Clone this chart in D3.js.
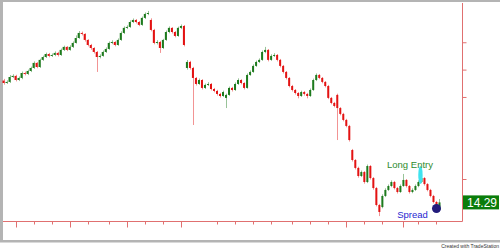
<!DOCTYPE html>
<html lang="en">
<head>
    <meta charset="UTF-8">
    <title>Spread chart</title>
    <style>
        body { margin: 0; background: #fff; }
        svg { display: block; }
    </style>
</head>
<body>
    <script src="https://cdn.jsdelivr.net/npm/d3@7/dist/d3.min.js"></script>
    <svg id="mysvg" width="500" height="248"></svg>
    <script>
        // daily bars
        var opens = [23.20,23.02,23.10,23.46,23.54,23.24,23.39,23.75,23.68,23.90,24.12,24.49,24.19,24.71,24.92,25.14,25.00,25.07,25.22,25.07,
            25.44,25.66,25.44,25.66,25.95,26.31,26.68,26.61,26.17,25.80,25.58,25.29,24.92,25.00,25.29,25.51,25.95,26.02,25.80,26.17,
            26.68,27.05,27.12,27.48,27.63,27.48,27.27,27.78,28.07,27.63,26.90,25.95,26.02,25.58,26.17,26.75,27.05,26.75,26.46,27.05,
            27.19,24.12,24.56,24.12,23.39,22.95,23.24,22.66,22.88,22.95,22.58,22.44,22.22,22.07,21.93,22.15,22.66,22.51,22.95,23.24,
            23.02,22.66,23.61,23.83,24.27,24.56,24.71,25.29,25.44,24.71,25.00,25.07,24.71,24.27,23.83,23.39,22.80,22.51,22.29,22.07,
            22.36,22.22,22.07,22.51,23.24,23.61,23.39,23.10,22.80,21.93,21.56,22.15,21.19,20.76,20.32,19.88,18.12,17.39,16.81,16.22,
            16.51,15.78,16.95,16.07,15.34,14.10,13.95,14.76,15.20,15.49,15.78,15.34,15.05,15.49,15.93,15.49,15.05,15.20,15.49,15.78,
            16.07,15.63,15.20,14.76,14.32,13.73];
        var highs = [23.32,23.22,23.60,23.66,23.62,23.50,23.86,23.85,24.00,24.22,24.60,24.55,24.80,25.02,25.24,25.22,25.18,25.33,25.30,25.54,
            25.75,25.72,25.78,26.06,26.50,26.82,26.78,26.66,26.22,25.88,25.64,25.36,25.12,25.40,25.62,26.06,26.14,26.08,26.28,26.80,
            27.16,27.24,27.60,27.74,27.70,27.55,27.88,28.18,28.29,27.75,26.98,26.15,26.10,26.25,26.86,27.16,27.10,26.82,27.14,27.30,
            27.26,24.70,24.64,24.20,23.46,23.35,23.30,22.98,23.08,23.02,22.66,22.52,22.30,22.46,22.24,22.76,22.74,23.06,23.36,23.30,
            23.08,23.72,23.94,24.38,24.66,24.82,25.40,25.66,25.50,25.12,25.20,25.14,24.78,24.34,23.90,23.46,22.88,22.58,22.36,22.46,
            22.44,22.30,22.62,23.34,23.72,23.68,23.46,23.16,22.88,22.00,21.64,22.24,21.26,20.84,20.40,19.96,18.20,17.46,16.90,16.62,
            16.58,17.06,17.02,16.14,15.42,14.18,14.88,15.32,15.60,15.90,15.86,15.42,15.60,16.37,16.00,15.56,15.32,15.60,15.90,16.20,
            16.14,15.70,15.28,14.84,14.40,14.54];
        var lows = [22.90,22.95,23.02,23.38,23.14,23.16,23.30,23.58,23.60,23.82,24.05,24.10,24.12,24.64,24.85,24.90,24.92,24.98,24.96,25.00,
            25.36,25.35,25.38,25.58,25.90,26.25,26.50,26.05,25.70,25.45,25.18,23.83,24.82,24.94,25.22,25.45,25.86,25.70,25.74,26.10,
            26.60,26.96,27.05,27.40,27.38,27.18,27.20,27.70,27.98,26.80,25.85,25.84,25.22,25.50,26.10,26.66,26.64,26.36,26.40,26.96,
            25.70,24.00,24.00,19.95,22.84,22.88,22.55,22.58,22.80,22.48,22.34,22.10,21.96,22.00,21.19,22.08,22.40,22.44,22.88,22.92,
            22.55,22.60,23.54,23.76,24.20,24.48,24.64,25.20,24.60,24.64,24.92,24.60,24.16,23.72,23.28,22.70,22.40,22.18,21.90,22.00,
            22.10,21.90,22.00,22.44,23.16,23.30,23.00,22.70,21.84,21.46,21.24,18.85,20.66,20.22,19.78,18.74,17.28,16.70,16.10,16.14,
            15.66,15.70,15.96,15.22,14.00,13.29,13.86,14.68,15.12,15.40,15.24,14.94,14.98,15.42,15.38,14.94,14.96,15.12,15.40,15.70,
            15.52,15.10,14.66,14.22,13.62,13.64];
        var closes = [23.02,23.10,23.46,23.54,23.24,23.39,23.75,23.68,23.90,24.12,24.49,24.19,24.71,24.92,25.14,25.00,25.07,25.22,25.07,25.44,
            25.66,25.44,25.66,25.95,26.31,26.68,26.61,26.17,25.80,25.58,25.29,24.92,25.00,25.29,25.51,25.95,26.02,25.80,26.17,26.68,
            27.05,27.12,27.48,27.63,27.48,27.27,27.78,28.07,28.14,26.90,25.95,26.02,25.58,26.17,26.75,27.05,26.75,26.46,27.05,27.19,
            25.80,24.56,24.12,23.39,22.95,23.24,22.66,22.88,22.95,22.58,22.44,22.22,22.07,22.36,22.15,22.66,22.51,22.95,23.24,23.02,
            22.66,23.61,23.83,24.27,24.56,24.71,25.29,25.44,24.71,25.00,25.07,24.71,24.27,23.83,23.39,22.80,22.51,22.29,22.07,22.36,
            22.22,22.07,22.51,23.24,23.61,23.39,23.10,22.80,21.93,21.56,21.34,21.19,20.76,20.32,19.88,18.85,17.39,16.81,16.22,16.51,
            15.78,16.95,16.07,15.34,14.10,13.59,14.76,15.20,15.49,15.78,15.34,15.05,15.49,15.93,15.49,15.05,15.20,15.49,15.78,16.07,
            15.63,15.20,14.76,14.32,13.73,14.29];

        var priceTicks = [16, 22, 24, 26];
        var weekTicks = [4,10,16,22,28,35,41,47,53,59,71,77,83,89,96,102,108,114,120,126,133,138,144];
        var monthTicks = [4,22,41,59,114,133];
        var entryBar = 139, entryPrice = 16.30;
        var spreadBar = 144, spreadPrice = 13.84;

        var svg = d3.select('#mysvg');
        var n = closes.length;

        var x = d3.scaleBand().domain(d3.range(n)).range([2.5, 440.5]).paddingInner(0.33);
        var y = d3.scaleLinear().domain([12.93, 28.87]).range([221, 3]);
        var cx = function(i){ return x(i) + x.bandwidth() / 2; };

        var axisColor = '#e07070';
        var up = '#1d7a1d', down = '#e31212';

        // frame
        svg.append('rect').attr('width', 500).attr('height', 248).attr('fill', '#fff');
        svg.append('rect').attr('x', 0).attr('y', 0).attr('width', 500).attr('height', 2).attr('fill', '#b4b4b4');
        svg.append('rect').attr('x', 0).attr('y', 0).attr('width', 3).attr('height', 242).attr('fill', '#b4b4b4');
        svg.append('rect').attr('x', 0).attr('y', 240).attr('width', 500).attr('height', 2.5).attr('fill', '#b4b4b4');

        // right price axis
        var yAxis = d3.axisRight(y).tickValues(priceTicks).tickSize(4).tickFormat('');
        var ya = svg.append('g').attr('transform', 'translate(462.5,0)').call(yAxis);
        ya.select('.domain').attr('stroke', axisColor).attr('d', 'M0,3V221.5');
        ya.selectAll('.tick line').attr('stroke', axisColor);

        // bottom time axis
        var xa = svg.append('g').attr('transform', 'translate(0,221.5)');
        xa.append('line').attr('x1', 3).attr('x2', 462.5).attr('stroke', axisColor);
        xa.selectAll('line.tk').data(weekTicks).enter().append('line')
            .attr('class', 'tk')
            .attr('x1', function(d){ return Math.round(cx(d)) + 0.5; })
            .attr('x2', function(d){ return Math.round(cx(d)) + 0.5; })
            .attr('y1', 0)
            .attr('y2', function(d){ return monthTicks.indexOf(d) >= 0 ? 6 : 3; })
            .attr('stroke', axisColor);

        // candles
        var bars = svg.append('g');
        var idx = d3.range(n);
        bars.selectAll('line').data(idx).enter().append('line')
            .attr('x1', function(i){ return Math.round(cx(i)) + 0.5; })
            .attr('x2', function(i){ return Math.round(cx(i)) + 0.5; })
            .attr('y1', function(i){ return y(highs[i]); })
            .attr('y2', function(i){ return y(lows[i]); })
            .attr('stroke', function(i){ return closes[i] >= opens[i] ? up : down; })
            .attr('stroke-opacity', 0.45);
        bars.selectAll('rect').data(idx).enter().append('rect')
            .attr('x', function(i){ return x(i); })
            .attr('width', x.bandwidth())
            .attr('y', function(i){ return y(Math.max(opens[i], closes[i])); })
            .attr('height', function(i){ return Math.max(1, Math.abs(y(opens[i]) - y(closes[i]))); })
            .attr('fill', function(i){ return closes[i] >= opens[i] ? up : down; });

        // long entry marker
        svg.append('ellipse')
            .attr('cx', cx(entryBar) - 1)
            .attr('cy', y(entryPrice))
            .attr('rx', 2.2).attr('ry', 9)
            .attr('fill', '#3fe3ef');
        svg.append('text')
            .attr('x', 410).attr('y', y(entryPrice) - 7)
            .attr('text-anchor', 'middle')
            .attr('font-family', 'Liberation Sans, Arial, sans-serif')
            .attr('font-size', 9.5)
            .attr('fill', '#2e8b2e')
            .text('Long Entry');

        // spread dot
        svg.append('circle')
            .attr('cx', cx(spreadBar)).attr('cy', y(spreadPrice))
            .attr('r', 4.5)
            .attr('fill', '#231c7c');
        svg.append('text')
            .attr('x', 412.5).attr('y', 218)
            .attr('text-anchor', 'middle')
            .attr('font-family', 'Liberation Sans, Arial, sans-serif')
            .attr('font-size', 9.5)
            .attr('fill', '#1f1fd0')
            .text('Spread');

        // last price box
        var last = closes[n - 1];
        svg.append('rect')
            .attr('x', 463).attr('y', y(last) - 7)
            .attr('width', 36).attr('height', 14)
            .attr('fill', '#0a7d0a');
        svg.append('text')
            .attr('x', 497).attr('y', y(last) + 4.5)
            .attr('text-anchor', 'end')
            .attr('font-family', 'Liberation Sans, Arial, sans-serif')
            .attr('font-size', 12)
            .attr('fill', '#fff')
            .text(d3.format('.2f')(last));

        svg.append('text')
            .attr('x', 499).attr('y', 247.5)
            .attr('text-anchor', 'end')
            .attr('font-family', 'Liberation Sans, Arial, sans-serif')
            .attr('font-size', 5)
            .attr('fill', '#333')
            .text('Created with TradeStation');
    </script>
</body>
</html>
